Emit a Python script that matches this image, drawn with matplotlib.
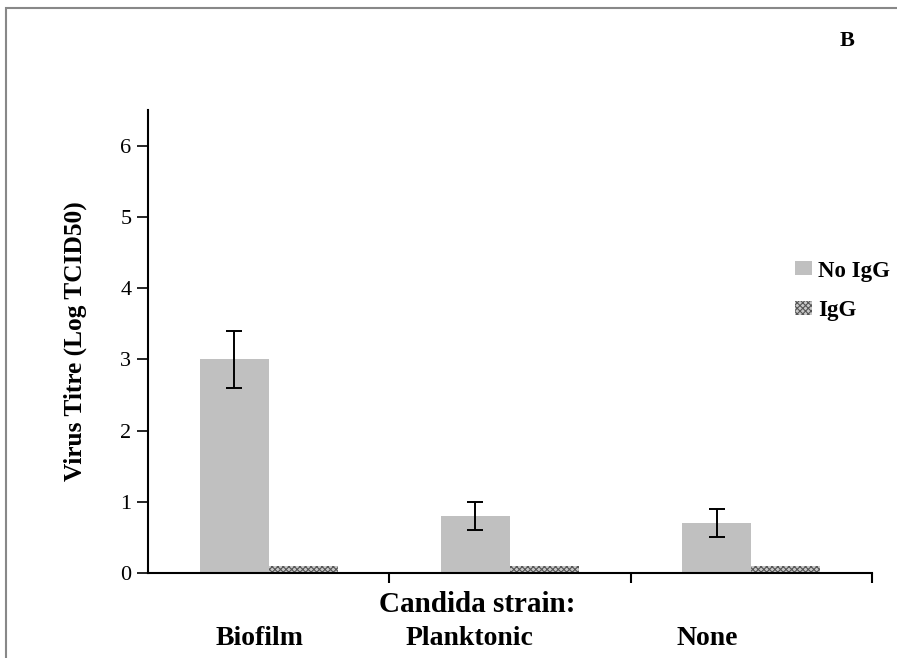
import matplotlib
matplotlib.use("Agg")
import matplotlib.pyplot as plt
import matplotlib.transforms as mtransforms
from matplotlib.patches import Rectangle
import numpy as np

plt.rcParams['font.family'] = ['Liberation Serif', 'DejaVu Serif']
plt.rcParams['hatch.linewidth'] = 0.8

# data
categories = ['Biofilm', 'Planktonic', 'None']
no_igg = [3.0, 0.8, 0.7]
no_igg_err = [0.4, 0.2, 0.2]
igg = [0.1, 0.1, 0.1]
series_names = ['No IgG', 'IgG']
y_ticks = [0, 1, 2, 3, 4, 5, 6]

fig = plt.figure(figsize=(8.97, 6.58), dpi=100)
ax = fig.add_axes([0.165, 0.1292, 0.807, 0.7036])

x = np.arange(len(categories))
w = 0.286
off = 0.143

b1 = ax.bar(x - off, no_igg, w, color='#c0c0c0', linewidth=0, label=series_names[0])
b2 = ax.bar(x + off, igg, w, color='#c8c8c8', edgecolor='#555555', linewidth=0,
            hatch='xxxxxx', label=series_names[1])
ax.errorbar(x - off, no_igg, yerr=no_igg_err, fmt='none', ecolor='black',
            elinewidth=1.4, capsize=5.5, capthick=1.4)

ax.set_xlim(-0.5, 2.5)
ax.set_ylim(0, 6.5)
ax.set_yticks(y_ticks)
ax.set_yticklabels([str(t) for t in y_ticks], fontsize=16)

for s in ['top', 'right']:
    ax.spines[s].set_visible(False)
for s in ['left', 'bottom']:
    ax.spines[s].set_linewidth(1.5)

ax.tick_params(axis='y', direction='out', length=8, width=1.2, pad=4)

# category labels (shifted left like the original) and boundary ticks
label_pos = [-0.038, 0.832, 1.816]
ax.set_xticks(label_pos)
ax.set_xticklabels(categories, fontsize=20, fontweight='bold')
ax.tick_params(axis='x', which='major', length=0, pad=38)
ax.set_xticks([0.5, 1.5, 2.5], minor=True)
ax.tick_params(axis='x', which='minor', direction='out', length=7, width=1.5)

trans = mtransforms.blended_transform_factory(ax.transData, ax.transAxes)
ax.text(0.863, -0.067, 'Candida strain:', transform=trans, ha='center', va='center',
        fontsize=21, fontweight='bold')

ax.set_ylabel('Virus Titre (Log TCID50)', fontsize=18.3, fontweight='bold', labelpad=24)

leg = fig.legend(handles=[b1, b2], labels=series_names, loc='upper left',
                 bbox_to_anchor=(0.876, 0.618), frameon=False,
                 prop={'weight': 'bold', 'size': 16.5}, handlelength=0.75,
                 handleheight=0.57, handletextpad=0.25, labelspacing=0.8, borderaxespad=0)

fig.text(0.944, 0.937, 'B', fontsize=16, fontweight='bold', ha='center', va='center')

# outer frame
fig.patches.append(Rectangle((6 / 897, -0.1), 1.2, 1.1 - 8 / 658, transform=fig.transFigure,
                             fill=False, edgecolor='#888888', linewidth=1.5))

fig.savefig('out.png', dpi=100)
